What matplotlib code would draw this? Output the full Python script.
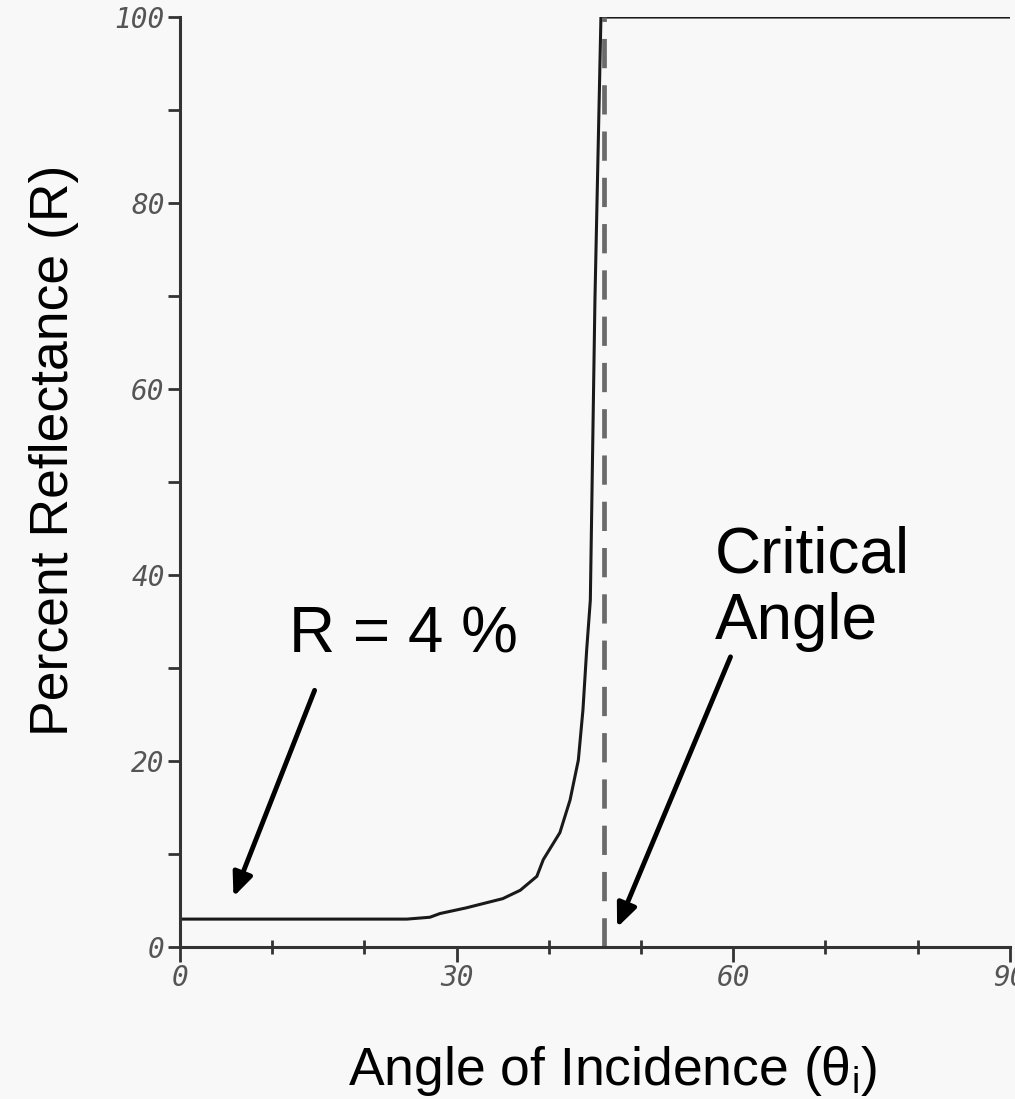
import matplotlib
matplotlib.use('Agg')
import matplotlib.pyplot as plt

# reflectance curve (angle in degrees, R in percent)
angle = [0, 24.6, 27.1, 28.2, 31.0, 35.0, 36.9, 38.7, 39.4, 41.2, 42.3,
         43.2, 43.7, 44.1, 44.5, 45.0, 45.65, 90]
refl = [3.0, 3.0, 3.2, 3.6, 4.2, 5.2, 6.1, 7.6, 9.4, 12.3, 15.8,
        20.1, 25.5, 31.9, 37.3, 69.6, 100, 100]
crit_angle = 46.0
xticks = [0, 30, 60, 90]
yticks = [0, 20, 40, 60, 80, 100]

bg = '#f8f8f8'
plt.rcParams['font.family'] = ['Liberation Sans', 'DejaVu Sans']

fig = plt.figure(figsize=(10.15, 10.99), dpi=100, facecolor=bg)
ax = fig.add_axes([0.1773, 0.1383, 0.8177, 0.8462], facecolor=bg)

ax.plot(angle, refl, color='#1a1a1a', lw=2.2, solid_joinstyle='miter')
ax.plot([crit_angle, crit_angle], [0, 100], color='#6a6a6a', lw=3.4,
        dashes=(6.2, 3.6))

ax.set_xlim(0, 90)
ax.set_ylim(0, 100)
for s in ['top', 'right']:
    ax.spines[s].set_visible(False)
for s in ['left', 'bottom']:
    ax.spines[s].set_color('#333333')
    ax.spines[s].set_linewidth(2.2)

ax.set_xticks(xticks)
ax.set_yticks(yticks)
ax.set_xticks(range(0, 91, 10), minor=True)
ax.set_yticks(range(0, 101, 10), minor=True)
ax.tick_params(axis='x', which='major', direction='out', length=11,
               width=2, color='#333333', pad=1)
ax.tick_params(axis='x', which='minor', direction='inout', length=10,
               width=2, color='#333333')
ax.tick_params(axis='y', which='both', direction='out', length=9,
               width=2, color='#333333', pad=2)
for lab in ax.get_xticklabels() + ax.get_yticklabels():
    lab.set_fontfamily('DejaVu Sans Mono')
    lab.set_fontstyle('italic')
    lab.set_fontsize(20)
    lab.set_color('#555555')

ax.set_xlabel(r'Angle of Incidence ($\mathregular{\theta_i}$)', fontsize=38.5)
ax.set_ylabel('Percent Reflectance (R)', fontsize=38.5)
ax.xaxis.set_label_coords(0.5217, -0.104)
ax.yaxis.set_label_coords(-0.122, 0.534)

arrow = dict(arrowstyle='-|>,head_length=1.4,head_width=0.6', color='black',
             lw=3.5, shrinkA=0, shrinkB=0)
ax.annotate('', xy=(5.8, 5.4), xytext=(14.6, 27.6), arrowprops=arrow)
ax.text(11.8, 33.5, 'R = 4 %', fontsize=46, va='center', ha='left')
ax.annotate('', xy=(47.4, 2.1), xytext=(59.7, 31.2), arrowprops=arrow)
ax.text(58.0, 38.5, 'Critical\nAngle', fontsize=46, va='center', ha='left',
        linespacing=1.15)

fig.savefig('out.png', dpi=100, facecolor=bg)
